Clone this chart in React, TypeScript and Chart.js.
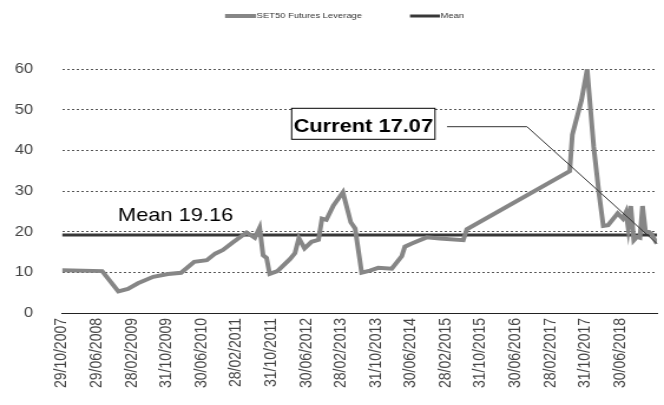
import React, { useEffect, useRef } from "react";
import { Chart, registerables } from "chart.js";

Chart.register(...registerables);

// ---------- data ----------
const tickLabels = [
  "29/10/2007", "29/06/2008", "28/02/2009", "31/10/2009", "30/06/2010", "28/02/2011",
  "31/10/2011", "30/06/2012", "28/02/2013", "31/10/2013", "30/06/2014", "28/02/2015",
  "31/10/2015", "30/06/2016", "28/02/2017", "31/10/2017", "30/06/2018",
];
const monthsPerTick = 8;

// months since 29/10/2007
const leverageMonth = [
  0, 9.2, 12.9, 15.1, 17.4, 20.9, 24.3, 27.3, 30.3, 33.2,
  35.1, 36.9, 39.2, 42.3, 44.2, 45.3, 46.1, 46.9, 47.6, 49.4,
  52.3, 53.4, 54.3, 55.6, 57.2, 58.8, 59.6, 60.6, 62.2, 64.4,
  66.2, 67.2, 68.7, 70.6, 72.5, 75.6, 77.9, 78.6, 80.2, 83.6,
  86.6, 92.0, 92.8, 116.4, 117.0, 119.1, 120.4, 121.9, 123.1, 124.1,
  125.2, 127.4, 128.6, 129.3, 129.8, 130.4, 131.1, 131.8, 132.5, 133.1,
  133.8, 134.6, 135.2, 135.9, 136.4,
];
const leverageValue = [
  10.5, 10.3, 5.3, 5.9, 7.3, 8.9, 9.6, 9.9, 12.6, 13.0,
  14.6, 15.5, 17.4, 19.8, 18.5, 21.0, 14.2, 13.5, 9.6, 10.3,
  13.3, 14.7, 18.4, 15.9, 17.5, 18.0, 23.2, 22.9, 26.4, 29.7,
  22.3, 20.8, 9.9, 10.4, 11.1, 10.9, 14.0, 16.3, 17.1, 18.6,
  18.3, 17.9, 20.6, 34.9, 43.8, 52.3, 59.9, 40.9, 29.5, 21.4,
  21.6, 24.5, 23.2, 24.8, 21.0, 26.3, 17.9, 18.7, 18.5, 26.3,
  19.9, 19.9, 19.4, 18.0, 17.07,
];
const meanValue = 19.16;
const currentValue = leverageValue[leverageValue.length - 1];
const seriesNames = ["SET50 Futures Leverage", "Mean"];

// ---------- styles ----------
const CANVAS_W = 563; // drawn narrower, then stretched to 664px like the original
const CANVAS_H = 405;
const FONT = "'Liberation Sans', Arial, Helvetica, sans-serif";
const SERIES_COLOR = "#868686";
const MEAN_COLOR = "#383838";

const overlayPlugin = {
  id: "overlay",
  afterDatasetsDraw(chart: any) {
    const { ctx, scales } = chart;
    const x = scales.x;
    const y = scales.y;
    ctx.save();
    // Mean label
    ctx.font = `18.5px ${FONT}`;
    ctx.fillStyle = "#000";
    ctx.textAlign = "left";
    ctx.textBaseline = "alphabetic";
    ctx.fillText(`Mean ${meanValue.toFixed(2)}`, 100, y.getPixelForValue(meanValue) - 14);

    // Current box
    const bx = 247.3, by = 108.3, bw = 121.5, bh = 31;
    ctx.fillStyle = "#fff";
    ctx.fillRect(bx, by, bw, bh);
    ctx.strokeStyle = "#000";
    ctx.lineWidth = 1;
    ctx.strokeRect(bx, by, bw, bh);
    ctx.font = `bold 18.5px ${FONT}`;
    ctx.fillStyle = "#000";
    ctx.textAlign = "center";
    ctx.fillText(`Current ${currentValue.toFixed(2)}`, bx + bw / 2, 131.7);

    // leader line
    const lx = x.getPixelForValue(leverageMonth[leverageMonth.length - 1]);
    const ly = y.getPixelForValue(currentValue);
    ctx.beginPath();
    ctx.strokeStyle = "#333";
    ctx.lineWidth = 1;
    ctx.moveTo(379, 126.7);
    ctx.lineTo(446.8, 126.7);
    ctx.lineTo(lx, ly);
    ctx.stroke();
    ctx.restore();
  },
  afterDraw(chart: any) {
    const { ctx } = chart;
    ctx.save();
    ctx.font = `8px ${FONT}`;
    ctx.fillStyle = "#333";
    ctx.textAlign = "left";
    ctx.textBaseline = "middle";
    const items = [
      { x0: 190.8, x1: 217.1, color: SERIES_COLOR, w: 4, text: seriesNames[0] },
      { x0: 347.6, x1: 373, color: MEAN_COLOR, w: 3, text: seriesNames[1] },
    ];
    for (const it of items) {
      ctx.beginPath();
      ctx.strokeStyle = it.color;
      ctx.lineWidth = it.w;
      ctx.moveTo(it.x0, 16);
      ctx.lineTo(it.x1, 16);
      ctx.stroke();
      ctx.fillText(it.text, it.x1 + 0.5, 16);
    }
    ctx.restore();
  },
};

export default function App() {
  const canvasRef = useRef<HTMLCanvasElement | null>(null);

  useEffect(() => {
    if (!canvasRef.current) return;
    const lastMonth = leverageMonth[leverageMonth.length - 1];
    const chart = new Chart(canvasRef.current, {
      type: "line",
      data: {
        datasets: [
          {
            label: seriesNames[0],
            data: leverageMonth.map((m, i) => ({ x: m, y: leverageValue[i] })),
            borderColor: SERIES_COLOR,
            borderWidth: 4,
            pointRadius: 0,
            tension: 0,
            fill: false,
          },
          {
            label: seriesNames[1],
            data: [
              { x: 0, y: meanValue },
              { x: lastMonth, y: meanValue },
            ],
            borderColor: MEAN_COLOR,
            borderWidth: 3,
            pointRadius: 0,
            fill: false,
          },
        ],
      },
      options: {
        responsive: false,
        animation: false,
        events: [],
        layout: { padding: { top: 69, right: 6, left: 0, bottom: 0 } },
        plugins: {
          legend: { display: false },
          tooltip: { enabled: false },
        },
        scales: {
          x: {
            type: "linear",
            min: 0,
            max: lastMonth,
            bounds: "data",
            afterBuildTicks: (scale: any) => {
              scale.ticks = tickLabels.map((_, i) => ({ value: i * monthsPerTick }));
            },
            afterFit: (scale: any) => {
              scale.height = 92;
            },
            ticks: {
              autoSkip: false,
              minRotation: 90,
              maxRotation: 90,
              padding: 5,
              color: "#444",
              font: { family: FONT, size: 14 },
              callback: (v: any) => tickLabels[Math.round(Number(v) / monthsPerTick)] ?? "",
            },
            grid: { display: false, drawTicks: false },
            border: { display: true, color: "#222", width: 1 },
          },
          y: {
            min: 0,
            max: 60,
            afterFit: (scale: any) => {
              scale.width = 52.6;
            },
            ticks: {
              stepSize: 10,
              padding: 24.6,
              color: "#444",
              font: { family: FONT, size: 14 },
            },
            grid: {
              drawTicks: false,
              color: (c: any) => (c.tick && c.tick.value === 0 ? "rgba(0,0,0,0)" : "#555"),
              lineWidth: 1,
            },
            border: { display: false, dash: [2, 2] },
          },
        },
      },
      plugins: [overlayPlugin],
    });
    return () => chart.destroy();
  }, []);

  return (
    <div style={{ position: "absolute", left: 0, top: 0, width: 664, height: 405, background: "#fff" }}>
      <canvas
        ref={canvasRef}
        width={CANVAS_W}
        height={CANVAS_H}
        style={{ width: "664px", height: "405px", display: "block" }}
      />
    </div>
  );
}
